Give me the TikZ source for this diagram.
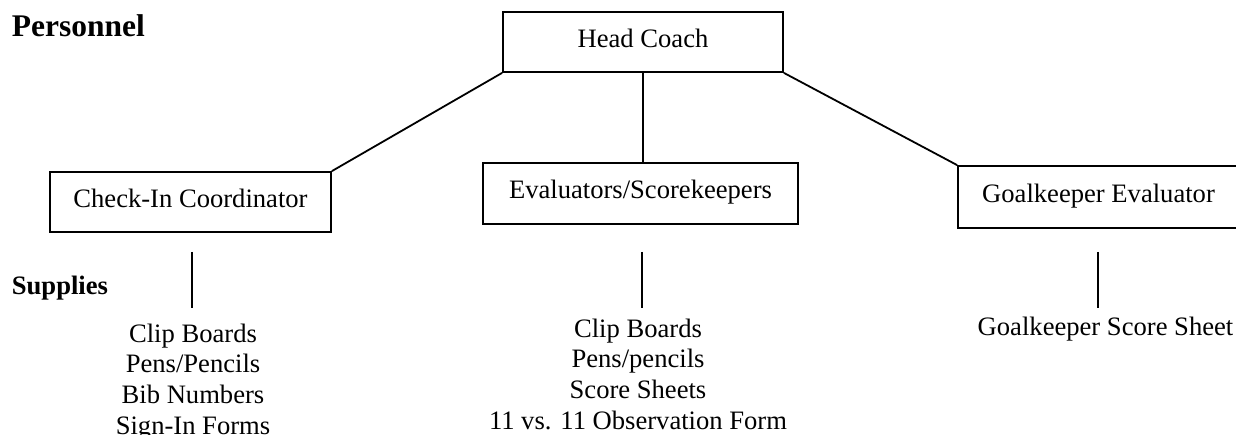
\documentclass[tikz,border=0pt]{standalone}
\usepackage{fontspec}
\setmainfont{Liberation Serif}

\begin{document}
\begin{tikzpicture}[x=1pt,y=-1pt,line width=1.8pt,
    role/.style={draw,inner sep=0pt,minimum height=60pt,text height=18pt,text depth=7pt,font=\fontsize{26.6}{30.6}\selectfont},
    supply/.style={align=center,inner sep=0pt,anchor=north,font=\fontsize{26.6}{30.6}\selectfont},
    heading/.style={anchor=base west,inner sep=0pt}]
        \useasboundingbox (0,0) rectangle (1236,435);
        \node[heading,font=\bfseries\fontsize{31.5}{36}\selectfont] (pers) at (11,36.5) {Personnel};
        \node[heading,font=\bfseries\fontsize{26.6}{30.6}\selectfont] (sup) at (11,295) {Supplies};

        \node[role,minimum width=280pt] (hc) at (643,42) {Head Coach};
        \node[role,minimum width=281pt] (ci) at (190.5,202) {Check-In Coordinator};
        \node[role,minimum width=315pt,minimum height=61pt] (ev) at (640.5,193.5) {Evaluators/Scorekeepers};
        \node[role,minimum width=281pt,minimum height=62pt] (gk) at (1098.5,197) {Goalkeeper Evaluator};

        \draw (hc.south west) -- (ci.north east);
        \draw (hc.south) -- (hc.south |- ev.north);
        \draw (hc.south east) -- (gk.north west);

        \node[supply] (ls1) at (193,323) {Clip Boards\\Pens/Pencils\\Bib Numbers\\Sign-In Forms};
        \node[supply] (ls2) at (638,318) {Clip Boards\\Pens/pencils\\Score Sheets\\11 vs. 11 Observation Form};
        \node[supply] (ls3) at (1105.5,316) {Goalkeeper Score Sheet};

        \coordinate (s1) at (192,252);
        \coordinate (s2) at (642,252);
        \coordinate (s3) at (1098,252);
        \foreach \s in {s1,s2,s3}
            \draw (\s) -- ++(0,56);
\end{tikzpicture}
\end{document}
